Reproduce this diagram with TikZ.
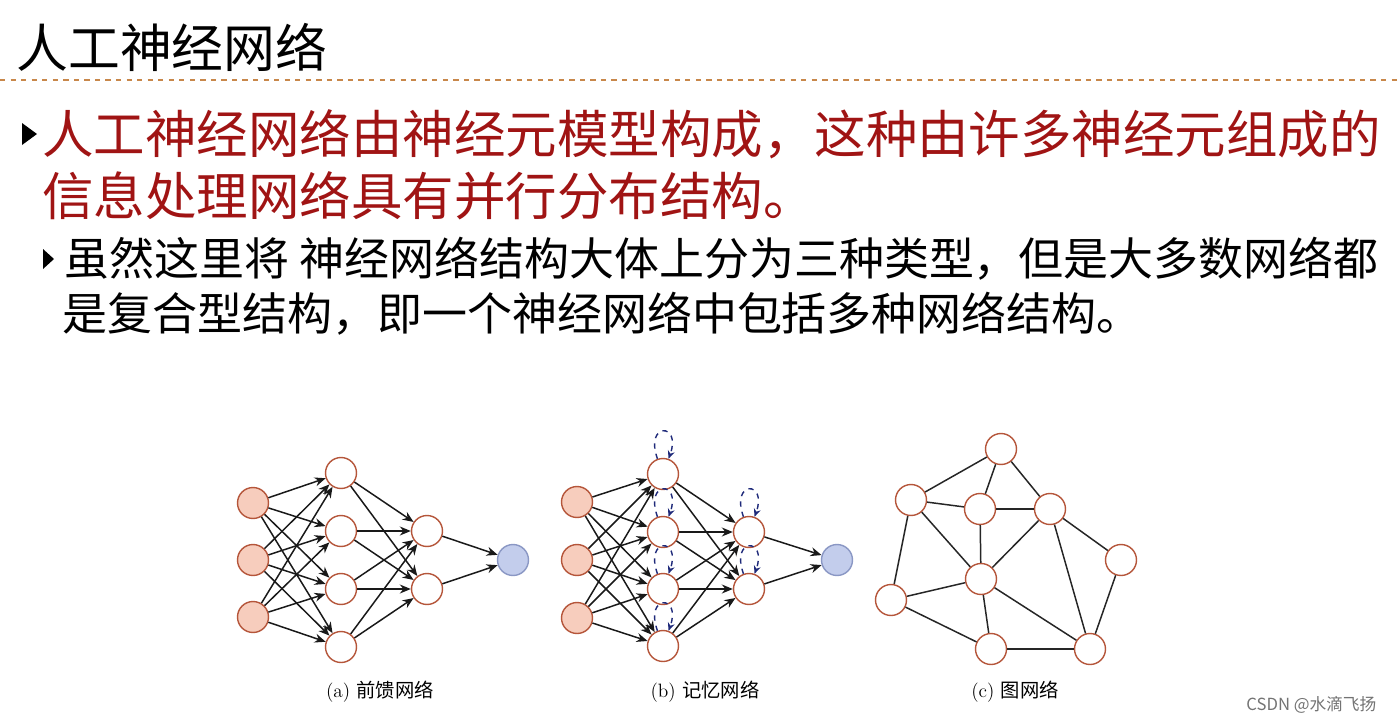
\documentclass[tikz,border=0pt]{standalone}
\usepackage{fontspec}
\newfontfamily\cjk{Noto Sans CJK SC}
\usetikzlibrary{arrows.meta, positioning}
\definecolor{nodeedge}{HTML}{B5553A}
\definecolor{inpfill}{HTML}{F7CDBD}
\definecolor{outfill}{HTML}{C3CDEC}
\definecolor{outedge}{HTML}{8A97C4}
\definecolor{loopcol}{HTML}{1F2A7A}
\definecolor{redtext}{HTML}{A01414}
\definecolor{ruleline}{HTML}{C8874A}

\begin{document}
\begin{tikzpicture}[x=0.02cm, y=-0.02cm,
  nd/.style={circle, draw=nodeedge, line width=0.8pt, fill=white, minimum size=0.62cm, inner sep=0pt},
  inp/.style={nd, fill=inpfill},
  outp/.style={nd, draw=outedge, fill=outfill},
  a/.style={-{Stealth[length=2.2mm, width=1.8mm]}, line width=0.85pt, draw=black!90},
  e/.style={line width=0.85pt, draw=black!85},
  rec/.style={-{Stealth[length=1.6mm, width=1.4mm]}, dashed, line width=0.8pt, draw=loopcol,
              out=110, in=70, distance=0.78cm},
  caplabel/.style={font=\fontsize{11}{13}\selectfont, inner sep=0pt},
  txt/.style={anchor=west, inner sep=0pt}]
  \useasboundingbox (0,0) rectangle (1397,724);
  % heading
  \node[txt, font=\cjk\fontsize{29.5}{35}\selectfont] (title) at (16,47) {人工神经网络};
  \draw[ruleline, dashed, line width=0.6pt] (0,80) -- (1397,80);
  % bullets
  \fill (22,123) -- (37,134) -- (22,145) -- cycle;
  \node[txt, text=redtext, font=\cjk\fontsize{29.3}{35}\selectfont] (l1) at (42,134) {人工神经网络由神经元模型构成，这种由许多神经元组成的};
  \node[txt, text=redtext, font=\cjk\fontsize{29.3}{35}\selectfont] (l2) at (42,196) {信息处理网络具有并行分布结构。};
  \fill (43,249) -- (54,259) -- (43,269) -- cycle;
  \node[txt, font=\cjk\fontsize{25.6}{30}\selectfont] (l3) at (64,259) {虽然这里将 神经网络结构大体上分为三种类型，但是大多数网络都};
  \node[txt, font=\cjk\fontsize{25.6}{30}\selectfont] (l4) at (62,314) {是复合型结构，即一个神经网络中包括多种网络结构。};

  % (a) feedforward
  \node[inp] (ai1) at (253,503) {};
  \node[inp] (ai2) at (253,560) {};
  \node[inp] (ai3) at (253,617) {};
  \node[nd] (ah1) at (341,473) {};
  \node[nd] (ah2) at (341,531) {};
  \node[nd] (ah3) at (341,589) {};
  \node[nd] (ah4) at (341,647) {};
  \node[nd] (ak1) at (427,531) {};
  \node[nd] (ak2) at (427,589) {};
  \node[outp] (ao) at (513,560) {};
  \foreach \i in {1,2,3} \foreach \j in {1,...,4} \draw[a] (ai\i) -- (ah\j);
  \foreach \j in {1,...,4} \foreach \k in {1,2} \draw[a] (ah\j) -- (ak\k);
  \foreach \k in {1,2} \draw[a] (ak\k) -- (ao);
  \node[caplabel] (capa) at (380,692) {(a) {\cjk 前馈网络}};

  % (b) memory
  \node[inp] (bi1) at (577,502) {};
  \node[inp] (bi2) at (577,560) {};
  \node[inp] (bi3) at (577,618) {};
  \node[nd] (bh1) at (663,474) {};
  \node[nd] (bh2) at (663,532) {};
  \node[nd] (bh3) at (663,589) {};
  \node[nd] (bh4) at (663,646) {};
  \node[nd] (bk1) at (749,532) {};
  \node[nd] (bk2) at (749,589) {};
  \node[outp] (bo) at (837,560) {};
  \foreach \i in {1,2,3} \foreach \j in {1,...,4} \draw[a] (bi\i) -- (bh\j);
  \foreach \j in {1,...,4} \foreach \k in {1,2} \draw[a] (bh\j) -- (bk\k);
  \foreach \k in {1,2} \draw[a] (bk\k) -- (bo);
  \foreach \n in {bh1,bh2,bh3,bh4,bk1,bk2} \draw[rec] (\n) to (\n);
  \node[caplabel] (capb) at (705,692) {(b) {\cjk 记忆网络}};

  % (c) graph
  \node[nd] (c1) at (1001,449) {};
  \node[nd] (c2) at (911,500) {};
  \node[nd] (c3) at (980,509) {};
  \node[nd] (c4) at (1050,509) {};
  \node[nd] (c5) at (1121,560) {};
  \node[nd] (c6) at (981,579) {};
  \node[nd] (c7) at (891,600) {};
  \node[nd] (c8) at (991,649) {};
  \node[nd] (c9) at (1090,649) {};
  \foreach \u/\v in {c1/c2, c1/c3, c1/c4, c2/c3, c2/c6, c2/c7, c3/c4, c3/c6, c4/c6,
                     c4/c5, c4/c9, c5/c9, c6/c7, c6/c8, c6/c9, c7/c8, c8/c9}
    \draw[e] (\u) -- (\v);
  \node[caplabel] (capc) at (1015,692) {(c) {\cjk 图网络}};

  \node[txt, text=black!55, font=\cjk\fontsize{9.5}{11}\selectfont] (mark) at (1246,705) {CSDN @水滴飞扬};
\end{tikzpicture}
\end{document}
